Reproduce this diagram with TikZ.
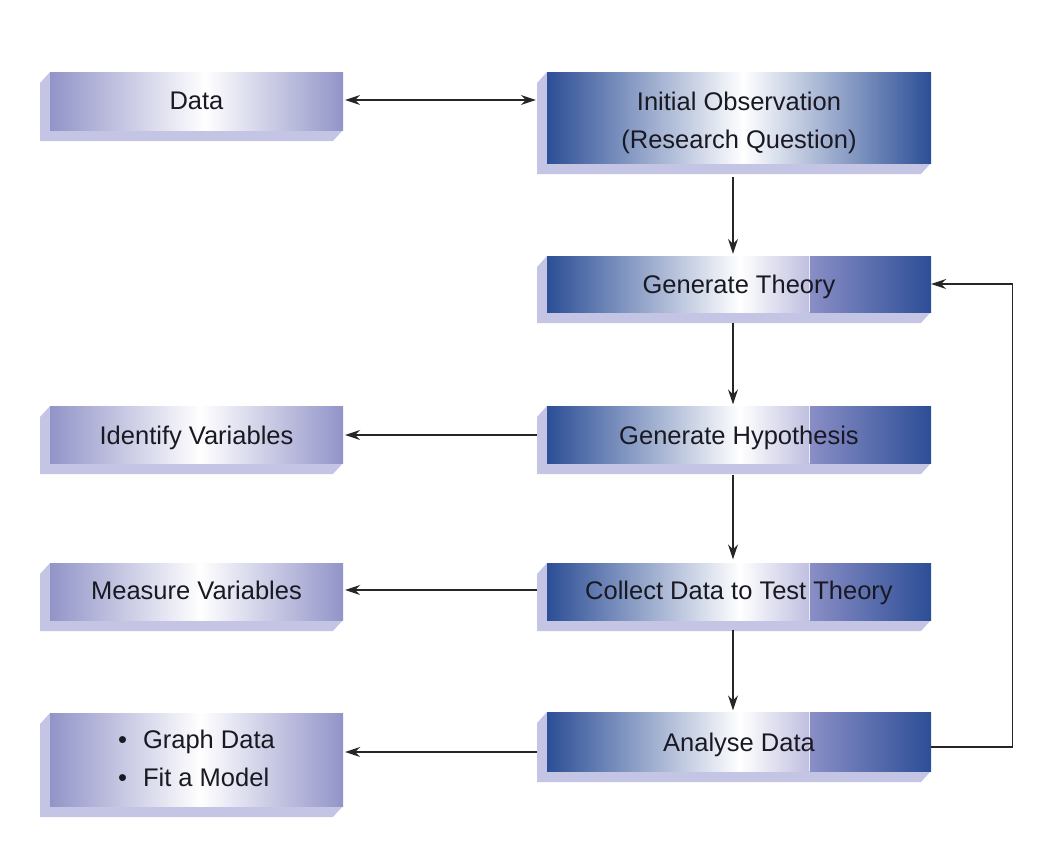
\documentclass[tikz,border=0pt]{standalone}
\usepackage{fontspec}
\setmainfont{Liberation Sans}
\usetikzlibrary{arrows.meta,calc}
\definecolor{lav}{RGB}{146,148,200}
\definecolor{dkb}{RGB}{44,78,150}
\definecolor{midl}{RGB}{122,126,186}
\definecolor{extc}{RGB}{196,197,228}
\definecolor{seamL}{RGB}{190,190,224}
\definecolor{seamR}{RGB}{138,142,198}
\definecolor{txtc}{RGB}{25,25,35}
\tikzset{
  lbl/.style={font=\fontsize{25.5}{38}\selectfont, text=txtc, inner sep=0pt, align=center, text depth=0pt},
  conn/.style={draw=black!85, line width=1.3pt, -{Stealth[length=15pt,width=10pt,inset=5pt]}},
  bconn/.style={draw=black!85, line width=1.3pt, {Stealth[length=15pt,width=10pt,inset=5pt]}-{Stealth[length=15pt,width=10pt,inset=5pt]}},
}
% extrusion: x0 y0 x1 y1
\newcommand\mkExtr[4]{\fill[extc] (#1,#2) -- (#1-10,#2+11) -- (#1-10,#4+11) -- (#3-10,#4+11) -- (#3,#4) -- cycle;}
% left box: x0 y0 x1 y1 xwhite
\newcommand\mkLbox[5]{\mkExtr{#1}{#2}{#3}{#4}
  \shade[left color=lav, right color=white] (#1,#2) rectangle (#5+0.5,#4);
  \shade[left color=white, right color=lav] (#5,#2) rectangle (#3,#4);}
% right box with seam: x0 y0 x1 y1
\newcommand\mkRbox[4]{\mkExtr{#1}{#2}{#3}{#4}
  \shade[left color=dkb, middle color=midl, right color=white] (#1,#2) rectangle (740.5,#4);
  \shade[left color=white, right color=seamL] (740,#2) rectangle (810.5,#4);
  \shade[left color=seamR, right color=dkb] (810,#2) rectangle (#3,#4);
  \draw[white!70!seamL, line width=0.8pt] (809.5,#2) -- (809.5,#4);}
\begin{document}
\begin{tikzpicture}[x=1pt,y=-1pt]
\useasboundingbox (0,0) rectangle (1054,846);
% boxes
\mkLbox{50}{72}{343}{130}{205}
\mkExtr{547}{72}{931}{163}
\shade[left color=dkb, middle color=midl, right color=white] (547,72) rectangle (743.5,163);
\shade[left color=white, middle color=midl, right color=dkb] (743,72) rectangle (931,163);
\mkRbox{547}{256}{931}{312}
\mkRbox{547}{406}{931}{463}
\mkLbox{50}{406}{343}{463}{200}
\mkRbox{547}{563}{931}{620}
\mkLbox{50}{563}{343}{620}{200}
\mkRbox{547}{712}{931}{771}
\mkLbox{50}{713}{343}{806}{200}
% nodes
\node[lbl, minimum width=293pt, minimum height=58pt] (data) at (196.5,101) {Data};
\node[lbl, minimum width=384pt, minimum height=91pt] (init) at (739,120) {Initial Observation\\(Research Question)};
\node[lbl, minimum width=384pt, minimum height=56pt] (theory) at (739,284) {Generate Theory};
\node[lbl, minimum width=384pt, minimum height=57pt] (hyp) at (739,435) {Generate Hypothesis};
\node[lbl, minimum width=293pt, minimum height=57pt] (ident) at (196.5,435) {Identify Variables};
\node[lbl, minimum width=384pt, minimum height=57pt] (coll) at (739,590) {Collect Data to Test Theory};
\node[lbl, minimum width=293pt, minimum height=57pt] (meas) at (196.5,590) {Measure Variables};
\node[lbl, minimum width=384pt, minimum height=59pt] (anal) at (739,742) {Analyse Data};
\node[lbl, align=left, minimum width=293pt, minimum height=93pt] (graph) at (196.5,758) {\textbullet\hspace{16pt}Graph Data\\\textbullet\hspace{16pt}Fit a Model};
% connectors
\draw[bconn] ($(data.east)+(2,-1)$) -- ($(data.east -| init.west)+(-11,-1)$);
\draw[conn] ($(init.south)+(-6,11)$) -- ($(theory.north)+(-6,-2)$);
\draw[conn] ($(theory.south)+(-6,11)$) -- ($(hyp.north)+(-6,-2)$);
\draw[conn] ($(hyp.south)+(-6,11)$) -- ($(coll.north)+(-6,-2)$);
\draw[conn] ($(coll.south)+(-6,11)$) -- ($(anal.north)+(-6,-2)$);
\draw[conn] ($(hyp.west)+(-10,0)$) -- ($(ident.east)+(2,0)$);
\draw[conn] ($(coll.west)+(-10,0)$) -- ($(meas.east)+(2,0)$);
\draw[conn] ($(anal.west)+(-10,10)$) -- ($(anal.west -| graph.east)+(2,10)$);
\draw[conn] ($(anal.east)+(0,5)$) -- ++(81,0) |- (theory.east);
\end{tikzpicture}
\end{document}
